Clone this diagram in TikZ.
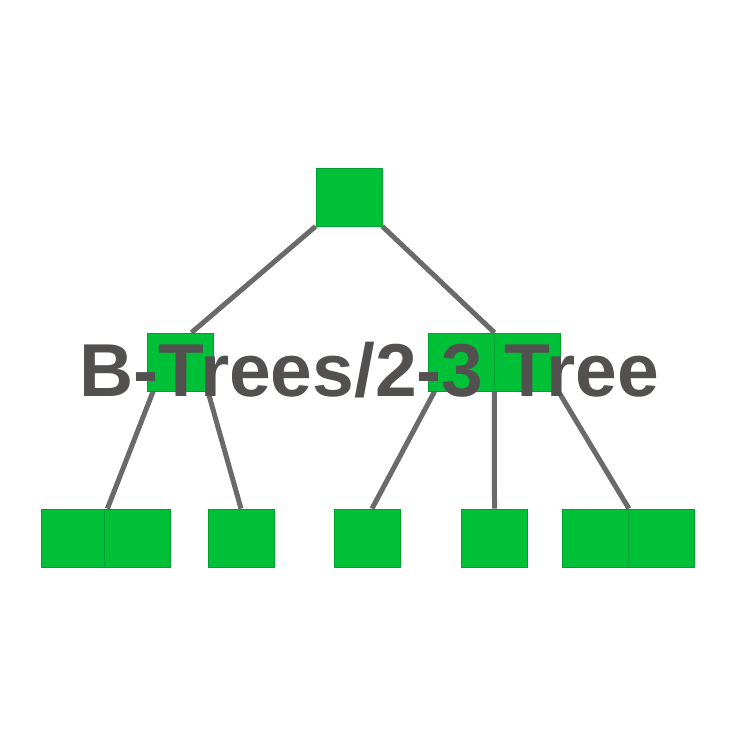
\documentclass[tikz,border=0pt]{standalone}
\usepackage{fontspec}
\setmainfont{Liberation Sans}
\usetikzlibrary{backgrounds}
\definecolor{keygreen}{HTML}{00C038}
\definecolor{keyedge}{HTML}{00A030}
\definecolor{linkgray}{HTML}{6A6A6A}
\definecolor{titlegray}{HTML}{535050}
\tikzset{
  key/.style={fill=keygreen, draw=keyedge, line width=0.4pt, minimum width=33pt, minimum height=29pt, inner sep=0pt},
  link/.style={draw=linkgray, line width=2.5pt}
}
\begin{document}
\begin{tikzpicture}[x=0.5pt, y=-0.5pt]
\useasboundingbox (0,0) rectangle (738,738);

% keys
\node[key] (root) at (349,197) {};
\node[key] (midL) at (180.5,362) {};
\node[key] (midRa) at (461,362) {};
\node[key] (midRb) at (527,362) {};
\node[key] (leafA) at (74,538) {};
\node[key] (leafB) at (137,538) {};
\node[key] (leafC) at (241,538) {};
\node[key] (leafD) at (367,538) {};
\node[key] (leafE) at (494.5,538) {};
\node[key] (leafF) at (595.5,538) {};
\node[key] (leafG) at (661,538) {};

% links, behind the keys
\begin{scope}[on background layer]
\draw[link] (root.south west) -- ([xshift=5.5pt]midL.north);
\draw[link] (root.south east) -- (midRa.north east);
\draw[link] ([xshift=3pt]midL.south west) -- (leafA.north east);
\draw[link] ([xshift=-3pt]midL.south east) -- (leafC.north);
\draw[link] ([xshift=3.5pt]midRa.south west) -- ([xshift=2.5pt]leafD.north);
\draw[link] (midRa.south east) -- (leafE.north);
\draw[link] ([xshift=-1pt]midRb.south east) -- (leafF.north east);
\end{scope}

\node[text=titlegray, anchor=base, inner sep=0pt, font=\bfseries\fontsize{37.5}{40}\selectfont] (title) at (369,396) {B-Trees/2-3 Tree};
\end{tikzpicture}
\end{document}
